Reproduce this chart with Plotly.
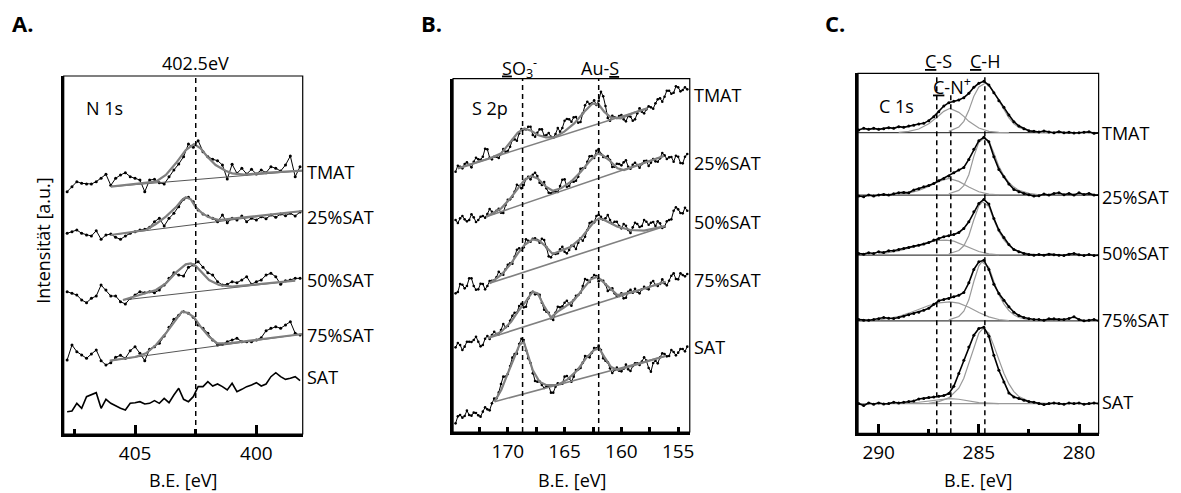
import plotly.graph_objects as go

W, H = 1181, 493
FONT = "Open Sans"
GRAY = "#808080"
LGRAY = "#9a9a9a"

SERIES = ["TMAT", "25%SAT", "50%SAT", "75%SAT", "SAT"]

# ---------------- Panel A : N 1s ----------------
A_BE = [407.8, 407.6, 407.4, 407.2, 407.0, 406.8, 406.6, 406.4, 406.2, 406.0,
        405.8, 405.6, 405.4, 405.2, 405.0, 404.8, 404.6, 404.4, 404.2, 404.0,
        403.8, 403.6, 403.4, 403.2, 403.0, 402.8, 402.6, 402.4, 402.2, 402.0,
        401.8, 401.6, 401.4, 401.2, 401.0, 400.8, 400.6, 400.4, 400.2, 400.0,
        399.8, 399.6, 399.4, 399.2, 399.0, 398.8, 398.6, 398.4, 398.2]
A_TMAT = [727, 742, 757, 752, 750, 750, 757, 767, 779, 746, 767, 777, 784, 772, 767, 762, 727, 762, 764, 754,
          750, 772, 792, 810, 832, 870, 860, 880, 847, 832, 824, 820, 807, 765, 809, 782, 797, 780, 794, 780,
          792, 784, 802, 797, 789, 807, 834, 772, 802]
A_25 = [602, 607, 612, 602, 597, 594, 610, 584, 597, 600, 590, 584, 594, 602, 607, 612, 614, 620, 637, 647,
        624, 647, 662, 682, 704, 710, 697, 672, 660, 654, 647, 637, 657, 634, 647, 642, 654, 637, 647, 642,
        652, 646, 657, 650, 660, 655, 662, 654, 666]
A_50 = [427, 422, 417, 402, 394, 407, 414, 447, 432, 414, 414, 397, 390, 407, 417, 427, 424, 427, 424, 432,
        447, 467, 484, 477, 474, 500, 507, 517, 500, 484, 477, 457, 447, 449, 457, 454, 462, 472, 449, 457,
        462, 477, 482, 472, 449, 460, 462, 467, 467]
A_75 = [222, 267, 247, 237, 227, 240, 252, 220, 207, 214, 230, 236, 227, 250, 262, 242, 220, 254, 262, 272,
        294, 320, 344, 356, 367, 362, 350, 327, 317, 302, 282, 267, 269, 277, 282, 287, 277, 277, 277, 282,
        289, 310, 317, 322, 317, 327, 337, 302, 297]
A_SAT = [67, 69, 92, 77, 112, 117, 124, 77, 104, 92, 84, 77, 72, 92, 94, 97, 90, 92, 100, 92,
         107, 94, 117, 137, 104, 97, 112, 142, 142, 157, 144, 150, 142, 132, 152, 127, 134, 142, 147, 154,
         144, 150, 172, 184, 172, 164, 167, 172, 160]
A_FIT_TMAT_X = [406.0, 405.0, 404.6, 404.14, 403.73, 403.32, 402.91, 402.57, 402.30, 402.02, 401.68, 401.27, 401.0, 400.5, 399.5, 398.1]
A_FIT_TMAT_Y = [742, 749, 752, 757, 777, 812, 852, 870, 857, 832, 807, 790, 782, 778, 784, 790]
A_BASE_TMAT_X, A_BASE_TMAT_Y = [406.0, 398.1], [742, 790]
A_FIT_25_X = [406.0, 405.0, 404.55, 404.14, 403.73, 403.32, 403.07, 402.91, 402.70, 402.50, 402.23, 401.95, 401.54, 401.0, 398.1]
A_FIT_25_Y = [597, 606, 612, 630, 652, 680, 702, 710, 704, 680, 662, 650, 642, 646, 669]
A_BASE_25_X, A_BASE_25_Y = [406.0, 398.1], [597, 669]
A_FIT_50_X = [405.5, 404.55, 404.14, 403.73, 403.32, 402.91, 402.70, 402.50, 402.23, 401.95, 401.54, 401.0, 398.4]
A_FIT_50_Y = [402, 422, 432, 452, 484, 509, 512, 504, 482, 462, 447, 442, 460]
A_BASE_50_X, A_BASE_50_Y = [405.5, 398.4], [402, 460]
A_FIT_75_X = [406.04, 405.0, 404.55, 404.14, 403.73, 403.39, 403.07, 402.84, 402.57, 402.30, 401.95, 401.61, 401.13, 398.09]
A_FIT_75_Y = [220, 231, 242, 267, 302, 337, 367, 364, 350, 322, 292, 272, 272, 300]
A_BASE_75_X, A_BASE_75_Y = [406.04, 398.09], [220, 300]
A_REF = [402.5]

# ---------------- Panel B : S 2p ----------------
B_BE = [174.6, 174.4, 174.2, 174.0, 173.8, 173.6, 173.4, 173.2, 173.0, 172.8,
        172.6, 172.4, 172.2, 172.0, 171.8, 171.6, 171.4, 171.2, 171.0, 170.8,
        170.6, 170.4, 170.2, 170.0, 169.8, 169.6, 169.4, 169.2, 169.0, 168.8,
        168.6, 168.4, 168.2, 168.0, 167.8, 167.6, 167.4, 167.2, 167.0, 166.8,
        166.6, 166.4, 166.2, 166.0, 165.8, 165.6, 165.4, 165.2, 165.0, 164.8,
        164.6, 164.4, 164.2, 164.0, 163.8, 163.6, 163.4, 163.2, 163.0, 162.8,
        162.6, 162.4, 162.2, 162.0, 161.8, 161.6, 161.4, 161.2, 161.0, 160.8,
        160.6, 160.4, 160.2, 160.0, 159.8, 159.6, 159.4, 159.2, 159.0, 158.8,
        158.6, 158.4, 158.2, 158.0, 157.8, 157.6, 157.4, 157.2, 157.0, 156.8,
        156.6, 156.4, 156.2, 156.0, 155.8, 155.6, 155.4, 155.2, 155.0, 154.8,
        154.6, 154.4, 154.2]
B_TMAT = [781, 799, 796, 791, 804, 809, 801, 794, 811, 823, 818, 817, 826, 850, 848, 823, 818, 826, 826, 822,
          834, 849, 841, 843, 856, 876, 878, 874, 896, 909, 908, 908, 916, 916, 891, 886, 898, 908, 908, 889,
          891, 897, 886, 883, 894, 912, 901, 912, 934, 939, 938, 931, 944, 945, 928, 930, 956, 980, 991, 984,
          986, 995, 981, 993, 1021, 1007, 978, 942, 934, 949, 944, 942, 948, 951, 938, 932, 948, 946, 934, 938,
          956, 971, 961, 956, 968, 977, 974, 970, 986, 998, 1001, 991, 1006, 1024, 1024, 1015, 1018, 1037, 1034, 1022,
          1026, 1034, 1028]
B_25 = [636, 627, 641, 648, 638, 632, 636, 653, 644, 630, 636, 646, 648, 643, 654, 669, 661, 657, 664, 670,
        658, 657, 681, 697, 698, 706, 721, 742, 738, 731, 741, 759, 766, 758, 772, 778, 768, 748, 741, 750,
        731, 718, 716, 722, 721, 720, 738, 757, 758, 736, 738, 751, 751, 754, 766, 790, 791, 793, 811, 827,
        828, 822, 844, 849, 834, 825, 824, 828, 816, 795, 796, 805, 804, 800, 809, 815, 796, 790, 802, 808,
        801, 793, 804, 813, 814, 798, 808, 819, 812, 811, 821, 837, 830, 819, 824, 825, 811, 829, 826, 807,
        806, 826, 834]
B_50 = [416, 420, 444, 442, 431, 438, 461, 461, 438, 427, 428, 445, 444, 428, 438, 453, 454, 455, 464, 481,
        474, 472, 488, 502, 506, 505, 526, 547, 551, 546, 554, 578, 574, 571, 580, 581, 576, 568, 580, 576,
        554, 527, 524, 535, 534, 536, 548, 556, 541, 536, 546, 559, 558, 549, 568, 581, 574, 586, 606, 627,
        631, 629, 648, 652, 646, 637, 641, 651, 636, 625, 631, 631, 618, 611, 624, 619, 606, 597, 614, 628,
        624, 615, 618, 636, 631, 622, 628, 630, 618, 632, 626, 612, 616, 632, 636, 638, 664, 674, 668, 657,
        656, 673, 664]
B_75 = [254, 267, 261, 246, 256, 271, 271, 270, 276, 286, 271, 257, 261, 280, 288, 279, 291, 301, 294, 293,
        306, 324, 314, 318, 334, 349, 358, 358, 378, 385, 374, 376, 401, 417, 421, 413, 414, 412, 388, 367,
        361, 358, 341, 336, 358, 376, 374, 377, 388, 394, 384, 379, 396, 409, 411, 418, 438, 459, 456, 450,
        462, 471, 468, 452, 456, 454, 443, 423, 428, 431, 416, 406, 408, 416, 401, 403, 421, 427, 418, 430,
        421, 416, 428, 436, 431, 428, 448, 453, 441, 438, 444, 458, 446, 440, 454, 469, 476, 459, 458, 476,
        471, 467, 474]
B_SAT = [26, 47, 51, 43, 48, 64, 51, 49, 58, 57, 50, 46, 61, 74, 68, 65, 86, 100, 101, 118,
         144, 166, 166, 174, 198, 223, 234, 235, 264, 280, 276, 245, 221, 207, 176, 153, 151, 151, 141, 132,
         136, 139, 118, 118, 136, 146, 144, 145, 166, 168, 161, 151, 166, 186, 188, 192, 208, 228, 226, 224,
         238, 252, 251, 259, 246, 221, 214, 209, 191, 177, 186, 193, 184, 182, 190, 202, 188, 183, 198, 206,
         206, 201, 211, 224, 214, 192, 181, 207, 214, 206, 224, 236, 234, 227, 228, 246, 240, 230, 238, 249,
         249, 242, 256]
B_FIT_TMAT_X = [174.39, 171.5, 170.58, 169.71, 169.12, 168.54, 167.95, 167.37, 166.64, 165.91, 165.03, 164.15,
                163.27, 162.54, 161.96, 161.52, 160.94, 160.06, 158.89, 157.72]
B_FIT_TMAT_Y = [791, 822, 836, 871, 898, 911, 904, 891, 884, 884, 901, 926, 961, 986, 981, 961, 944, 941, 958, 971]
B_BASE_TMAT_X, B_BASE_TMAT_Y = [174.39, 157.72], [791, 971]
B_FIT_25_X = [171.9, 170.58, 169.85, 169.12, 168.54, 167.95, 167.37, 166.64, 166.05, 165.32, 164.44, 163.57,
              162.84, 162.11, 161.67, 161.08, 160.35, 159.77, 156.26]
B_FIT_25_Y = [646, 671, 698, 731, 756, 768, 761, 736, 724, 731, 751, 781, 811, 836, 831, 816, 791, 786, 828]
B_BASE_25_X, B_BASE_25_Y = [171.9, 156.26], [646, 828]
B_FIT_50_X = [171.61, 170.58, 169.71, 169.12, 168.54, 167.81, 167.22, 166.64, 166.05, 165.32, 164.44, 163.57,
              162.98, 162.40, 161.96, 161.52, 160.94, 160.35, 159.2, 158.0, 156.11]
B_FIT_50_Y = [446, 471, 506, 536, 561, 578, 574, 556, 534, 544, 556, 581, 606, 631, 641, 636, 626, 616, 606, 604, 618]
B_BASE_50_X, B_BASE_50_Y = [171.61, 156.11], [446, 618]
B_FIT_75_X = [171.75, 170.58, 169.71, 169.12, 168.54, 167.81, 167.37, 166.78, 166.20, 165.61, 165.03, 164.15,
              163.27, 162.69, 162.11, 161.52, 160.94, 160.35, 158.89, 156.11]
B_FIT_75_Y = [281, 301, 331, 361, 386, 421, 416, 376, 344, 361, 374, 396, 434, 458, 466, 448, 428, 411, 421, 451]
B_BASE_75_X, B_BASE_75_Y = [171.75, 156.11], [281, 451]
B_FIT_SAT_X = [171.17, 170.58, 170.0, 169.42, 168.98, 168.6, 168.25, 167.81, 167.22, 166.64, 165.61, 164.74,
               163.86, 163.13, 162.40, 161.96, 161.52, 160.94, 160.35, 156.11]
B_FIT_SAT_Y = [91, 126, 176, 226, 261, 271, 236, 186, 151, 141, 141, 158, 186, 221, 246, 251, 226, 196, 186, 228]
B_BASE_SAT_X, B_BASE_SAT_Y = [171.17, 156.11], [91, 228]
B_REF = [168.7, 162.0]

# ---------------- Panel C : C 1s ----------------
C_BE = [291.0, 290.75, 290.5, 290.25, 290.0, 289.75, 289.5, 289.25, 289.0, 288.75,
        288.5, 288.25, 288.0, 287.75, 287.5, 287.25, 287.0, 286.75, 286.5, 286.25,
        286.0, 285.75, 285.5, 285.25, 285.0, 284.75, 284.5, 284.25, 284.0, 283.75,
        283.5, 283.25, 283.0, 282.75, 282.5, 282.25, 282.0, 281.75, 281.5, 281.25,
        281.0, 280.75, 280.5, 280.25, 280.0, 279.75, 279.5, 279.25, 279.0]
C_TMAT = [909, 914, 911, 914, 911, 913, 916, 914, 919, 917, 921, 923, 927, 929, 937, 949, 964, 981, 991, 995,
          999, 1006, 1019, 1037, 1049, 1055, 1044, 1021, 997, 977, 954, 934, 921, 913, 907, 905, 903, 906, 903, 901,
          904, 901, 902, 900, 901, 902, 904, 899, 900]
C_25 = [711, 709, 714, 711, 714, 716, 714, 718, 721, 722, 721, 729, 733, 739, 743, 749, 757, 764, 771, 781,
        789, 797, 821, 851, 877, 887, 874, 829, 791, 769, 747, 731, 724, 719, 715, 711, 712, 717, 714, 719,
        721, 715, 719, 714, 721, 716, 719, 714, 714]
C_50 = [539, 537, 541, 539, 544, 542, 547, 547, 551, 554, 557, 561, 564, 567, 572, 579, 584, 589, 592, 596,
        602, 614, 634, 664, 689, 701, 687, 644, 609, 587, 566, 551, 544, 539, 536, 534, 536, 534, 537, 535,
        534, 533, 537, 539, 535, 533, 536, 533, 534]
C_75 = [341, 339, 339, 341, 343, 347, 345, 344, 347, 351, 355, 359, 363, 369, 375, 387, 397, 401, 404, 409,
        414, 422, 451, 491, 514, 519, 491, 447, 419, 399, 379, 363, 353, 347, 343, 341, 341, 339, 343, 343,
        341, 341, 344, 349, 341, 337, 339, 341, 337]
C_SAT = [89, 83, 91, 87, 91, 88, 89, 93, 91, 93, 95, 97, 103, 104, 107, 109, 111, 113, 119, 141,
         179, 219, 259, 294, 314, 318, 291, 234, 189, 154, 121, 109, 104, 99, 95, 93, 89, 86, 89, 91,
         89, 87, 91, 89, 91, 87, 89, 91, 89]
C_BASELINES = [901, 714, 534, 337, 89]
C_CN_TMAT_X = [289.0, 288.5, 288.0, 287.5, 287.0, 286.75, 286.44, 286.0, 285.75, 285.5, 285.0, 284.5, 284.0, 283.5]
C_CN_TMAT_Y = [902, 905, 912, 928, 952, 965, 974, 962, 950, 935, 915, 905, 902, 901]
C_CH_TMAT_X = [286.5, 286.0, 285.75, 285.5, 285.25, 285.0, 284.69, 284.5, 284.25, 284.0, 283.75, 283.5, 283.25, 283.0, 282.5, 282.0, 281.5]
C_CH_TMAT_Y = [905, 918, 935, 968, 1010, 1038, 1049, 1044, 1022, 995, 968, 945, 928, 917, 906, 902, 901]
C_CN_25_X = [289.0, 288.5, 288.0, 287.5, 287.0, 286.5, 286.0, 285.5, 285.0, 284.5, 284.0]
C_CN_25_Y = [716, 720, 728, 740, 755, 764, 755, 738, 724, 717, 715]
C_CH_25_X = [286.5, 286.0, 285.75, 285.5, 285.25, 285.0, 284.74, 284.5, 284.25, 284.0, 283.75, 283.5, 283.25, 283.0, 282.5, 282.0]
C_CH_25_Y = [718, 728, 742, 775, 830, 872, 884, 876, 840, 800, 772, 752, 738, 728, 719, 715]
C_CS_50_X = [290.0, 289.5, 289.0, 288.5, 288.0, 287.5, 287.0, 286.64, 286.25, 286.0, 285.5, 285.0, 284.5, 284.0]
C_CS_50_Y = [537, 541, 547, 555, 565, 573, 578, 579, 576, 570, 557, 545, 538, 535]
C_CH_50_X = [286.5, 286.0, 285.75, 285.5, 285.25, 285.0, 284.82, 284.5, 284.25, 284.0, 283.75, 283.5, 283.25, 283.0, 282.5, 282.0]
C_CH_50_Y = [538, 548, 562, 592, 640, 682, 694, 680, 640, 605, 580, 563, 552, 545, 538, 535]
C_CS_75_X = [290.0, 289.5, 289.0, 288.5, 288.0, 287.5, 287.0, 286.44, 286.0, 285.5, 285.0, 284.5, 284.0, 283.5]
C_CS_75_Y = [340, 344, 350, 360, 372, 383, 391, 394, 390, 378, 362, 349, 341, 338]
C_CH_75_X = [286.5, 286.0, 285.75, 285.5, 285.25, 285.0, 284.85, 284.5, 284.25, 284.0, 283.75, 283.5, 283.25, 283.0, 282.5, 282.0]
C_CH_75_Y = [340, 350, 366, 400, 455, 502, 514, 498, 455, 415, 388, 368, 355, 347, 340, 338]
C_CS_SAT_X = [289.0, 288.0, 287.0, 286.44, 286.0, 285.5, 285.0, 284.0]
C_CS_SAT_Y = [90, 93, 100, 104, 102, 97, 92, 89]
C_CH_SAT_X = [287.5, 287.0, 286.5, 286.0, 285.75, 285.5, 285.25, 285.0, 284.8, 284.5, 284.25, 284.0, 283.75, 283.5, 283.25, 283.0, 282.5, 282.0, 281.5]
C_CH_SAT_Y = [90, 95, 106, 135, 165, 210, 262, 300, 314, 300, 262, 220, 180, 148, 125, 110, 96, 91, 89]
C_REF = [287.1, 286.4, 284.7]

# ---------------- figure ----------------
fig = go.Figure()


def px(x):
    return x / W


def py(y):
    return 1 - y / H


PANELS = {
    "A": dict(ax="", box=(64, 304, 76, 434), xr=[407.94, 398.09], yr=[0, 1074],
              major=[405, 400], minor=[407.5, 402.5], majlen=9, minlen=5),
    "B": dict(ax="2", box=(455, 692.7, 78.7, 432), xr=[174.82, 153.98], yr=[0, 1060],
              major=[170, 165, 160, 155], minor=[172.5, 167.5, 162.5, 157.5], majlen=5, minlen=5),
    "C": dict(ax="3", box=(861.7, 1103.3, 73.3, 433.3), xr=[291.03, 279.02], yr=[0, 1079],
              major=[290, 285, 280], minor=[287.5, 282.5], majlen=9, minlen=4),
}


def line(panel, x, y, color="black", width=1.0, markers=False, msize=3):
    a = PANELS[panel]["ax"]
    fig.add_trace(go.Scatter(
        x=x, y=y, mode="lines+markers" if markers else "lines",
        line=dict(color=color, width=width),
        marker=dict(size=msize, color="black"),
        xaxis="x" + a, yaxis="y" + a, showlegend=False, hoverinfo="skip"))


# Panel A
for yy in [A_TMAT, A_25, A_50, A_75]:
    line("A", A_BE, yy, width=1, markers=True)
line("A", A_BE, A_SAT, width=1.6)
for bx, by in [(A_BASE_TMAT_X, A_BASE_TMAT_Y), (A_BASE_25_X, A_BASE_25_Y),
               (A_BASE_50_X, A_BASE_50_Y), (A_BASE_75_X, A_BASE_75_Y)]:
    line("A", bx, by, color="#555555", width=1)
for fx, fy in [(A_FIT_TMAT_X, A_FIT_TMAT_Y), (A_FIT_25_X, A_FIT_25_Y),
               (A_FIT_50_X, A_FIT_50_Y), (A_FIT_75_X, A_FIT_75_Y)]:
    line("A", fx, fy, color=GRAY, width=2.2)

# Panel B
for yy in [B_TMAT, B_25, B_50, B_75, B_SAT]:
    line("B", B_BE, yy, width=1, markers=True, msize=2.6)
for bx, by in [(B_BASE_TMAT_X, B_BASE_TMAT_Y), (B_BASE_25_X, B_BASE_25_Y), (B_BASE_50_X, B_BASE_50_Y),
               (B_BASE_75_X, B_BASE_75_Y), (B_BASE_SAT_X, B_BASE_SAT_Y)]:
    line("B", bx, by, color=GRAY, width=1.6)
for fx, fy in [(B_FIT_TMAT_X, B_FIT_TMAT_Y), (B_FIT_25_X, B_FIT_25_Y), (B_FIT_50_X, B_FIT_50_Y),
               (B_FIT_75_X, B_FIT_75_Y), (B_FIT_SAT_X, B_FIT_SAT_Y)]:
    line("B", fx, fy, color=GRAY, width=2.2)

# Panel C
for i, b in enumerate(C_BASELINES):
    line("C", [PANELS["C"]["xr"][0], PANELS["C"]["xr"][1]], [b, b],
         color=LGRAY if i == 4 else "#404040", width=1.2)
for cx, cy in [(C_CN_TMAT_X, C_CN_TMAT_Y), (C_CH_TMAT_X, C_CH_TMAT_Y), (C_CN_25_X, C_CN_25_Y),
               (C_CH_25_X, C_CH_25_Y), (C_CS_50_X, C_CS_50_Y), (C_CH_50_X, C_CH_50_Y),
               (C_CS_75_X, C_CS_75_Y), (C_CH_75_X, C_CH_75_Y), (C_CS_SAT_X, C_CS_SAT_Y),
               (C_CH_SAT_X, C_CH_SAT_Y)]:
    line("C", cx, cy, color=LGRAY, width=1.2)
for yy in [C_TMAT, C_25, C_50, C_75, C_SAT]:
    line("C", C_BE, yy, width=1.6, markers=True)

layout = dict(width=W, height=H, margin=dict(l=0, r=0, t=0, b=0), autosize=False,
              paper_bgcolor="white", plot_bgcolor="white", showlegend=False,
              font=dict(family=FONT, size=18, color="black"))
shapes = []
for key, p in PANELS.items():
    a = p["ax"]
    x0, x1, top, bot = p["box"]
    layout["xaxis" + a] = dict(
        domain=[px(x0), px(x1)], range=p["xr"], anchor="y" + a,
        tickmode="array", tickvals=p["major"], ticktext=[str(v) for v in p["major"]],
        ticks="inside", ticklen=p["majlen"], tickwidth=2.5, tickcolor="black",
        minor=dict(tickmode="array", tickvals=p["minor"], ticks="inside",
                   ticklen=p["minlen"], tickwidth=2.5, tickcolor="black"),
        showline=True, linewidth=3, linecolor="black", mirror=False,
        showgrid=False, zeroline=False, tickfont=dict(family=FONT, size=19, color="black"),
        fixedrange=True)
    layout["yaxis" + a] = dict(
        domain=[py(bot), py(top)], range=p["yr"], anchor="x" + a,
        showticklabels=False, ticks="", showline=True, linewidth=3, linecolor="black",
        mirror=False, showgrid=False, zeroline=False, fixedrange=True)
    shapes.append(dict(type="rect", xref="x" + a + " domain", yref="y" + a + " domain",
                       x0=0, x1=1, y0=0, y1=1, line=dict(color="black", width=1.2), layer="above"))

DASH = "5px,4px"
for v in A_REF:
    shapes.append(dict(type="line", xref="x", yref="y domain", x0=v, x1=v, y0=0, y1=1,
                       line=dict(color="black", width=1.5, dash=DASH)))
for v in B_REF:
    shapes.append(dict(type="line", xref="x2", yref="y2 domain", x0=v, x1=v, y0=0, y1=1,
                       line=dict(color="black", width=1.5, dash=DASH)))
for i, v in enumerate(C_REF):
    shapes.append(dict(type="line", xref="x3", yref="y3 domain", x0=v, x1=v, y0=0,
                       y1=0.945 if i == 1 else 1,
                       line=dict(color="black", width=1.5, dash=DASH)))
layout["shapes"] = shapes

ann = []


def text(x, y, s, size=18, xanchor="center", bold=False, angle=0):
    ann.append(dict(x=px(x), y=py(y), xref="paper", yref="paper", text=("<b>%s</b>" % s) if bold else s,
                    showarrow=False, xanchor=xanchor, yanchor="middle", textangle=angle,
                    font=dict(family=FONT, size=size, color="black")))


text(10, 23, "A.", size=22, xanchor="left", bold=True)
text(421, 23, "B.", size=22, xanchor="left", bold=True)
text(827, 23, "C.", size=22, xanchor="left", bold=True)
text(196, 63, "402.5eV")
text(84, 108, "N 1s", xanchor="left")
text(522, 68, "<u>S</u>O<sub>3</sub><sup>-</sup>")
text(603, 68, "Au-<u>S</u>")
text(472, 108, "S 2p", xanchor="left")
text(942, 61, "<u>C</u>-S")
text(989, 61, "<u>C</u>-H")
text(956, 86, "<u>C</u>-N<sup>+</sup>")
text(881, 106, "C 1s", xanchor="left")
text(43, 240, "Intensität [a.u.]", angle=-90)
for cx in [184, 574, 982]:
    text(cx, 480, "B.E. [eV]")

LABEL_Y = {"A": (306, [172, 217, 280, 335, 377]),
           "B": (695, [95, 163, 222, 280, 347]),
           "C": (1105, [133, 197, 253, 320, 402])}
for key, (lx, ys) in LABEL_Y.items():
    for name, yy in zip(SERIES, ys):
        text(lx, yy, name, xanchor="left")
layout["annotations"] = ann

fig.update_layout(**layout)
fig.write_html("out.html", config={"displayModeBar": False},
               post_script="document.body.style.margin='0px';document.body.style.overflow='hidden';")
